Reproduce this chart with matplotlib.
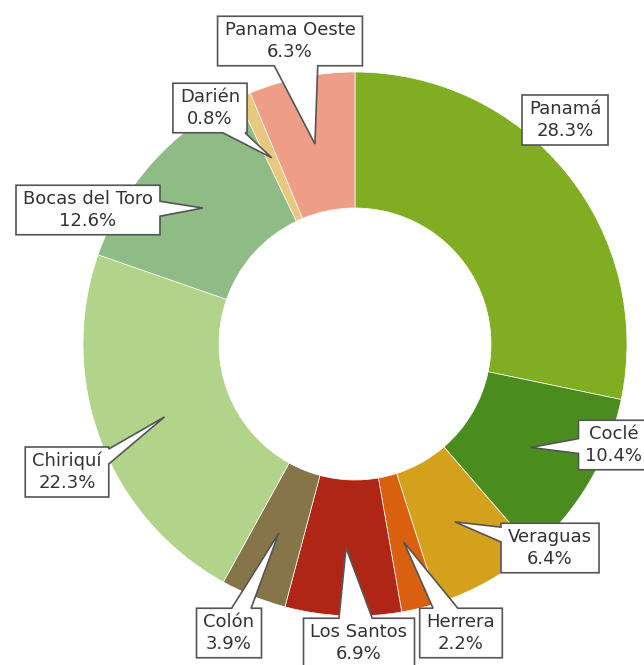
import numpy as np
import matplotlib
matplotlib.use("Agg")
import matplotlib.pyplot as plt
from matplotlib.patches import Polygon

# data (share of total, %), clockwise from the top
regions = ["Panamá", "Coclé", "Veraguas", "Herrera", "Los Santos", "Colón",
           "Chiriquí", "Bocas del Toro", "Darién", "Panama Oeste"]
shares = [28.3, 10.4, 6.4, 2.2, 6.9, 3.9, 22.3, 12.6, 0.8, 6.3]
colors = ["#80ad22", "#4a8c1e", "#d3a11c", "#d9600f", "#b02616", "#857548",
          "#b2d38a", "#8fbb84", "#e8c77f", "#ee9e86"]

# label box centres in pixels (y measured from top)
label_xy = [(565, 120), (614, 445), (550, 548), (461, 633), (359, 643),
            (229, 633), (67, 472), (88, 210), (210, 108), (290, 41)]

W, H = 644, 665
cx, cy = 355, H - 344
R = 272

fig = plt.figure(figsize=(W / 100, H / 100), dpi=100)
ax = fig.add_axes([0, 0, 1, 1])
ax.set_xlim(0, W)
ax.set_ylim(0, H)
ax.set_aspect("equal")
ax.axis("off")

ax.pie(shares, colors=colors, startangle=90, counterclock=False,
       radius=R, center=(cx, cy), frame=True,
       wedgeprops=dict(width=R / 2, edgecolor="white", linewidth=0.5))
ax.set_xlim(0, W)
ax.set_ylim(0, H)
ax.axis("off")

# pointer tips sit in the middle of each ring segment
cum = np.cumsum(shares) - np.array(shares) / 2
ang = np.deg2rad(90 - cum / sum(shares) * 360)
r_tip = R * 0.75

renderer = fig.canvas.get_renderer()
pad_x, pad_y = 7, 5


def callout(x0, y0, x1, y1, tip):
    tx, ty = tip
    mx, my = (x0 + x1) / 2, (y0 + y1) / 2
    dx, dy = tx - mx, ty - my
    corners = [(x0, y0), (x1, y0), (x1, y1), (x0, y1)]
    # which side does the line towards the tip leave through
    sx = (x1 - mx) / abs(dx) if dx else np.inf
    sy = (y1 - my) / abs(dy) if dy else np.inf
    if sx < sy:
        side = "right" if dx > 0 else "left"
        p = my + dy * sx
        hw = 0.15 * (y1 - y0)
        p = min(max(p, y0 + hw + 2), y1 - hw - 2)
    else:
        side = "top" if dy > 0 else "bottom"
        p = mx + dx * sy
        hw = 0.15 * (x1 - x0)
        p = min(max(p, x0 + hw + 2), x1 - hw - 2)
    if side == "bottom":
        ins, at = [(p - hw, y0), tip, (p + hw, y0)], 1
    elif side == "right":
        ins, at = [(x1, p - hw), tip, (x1, p + hw)], 2
    elif side == "top":
        ins, at = [(p + hw, y1), tip, (p - hw, y1)], 3
    else:
        ins, at = [(x0, p + hw), tip, (x0, p - hw)], 4
    return corners[:at] + ins + corners[at:]


for i, (name, val) in enumerate(zip(regions, shares)):
    lx, ly = label_xy[i]
    z = 6 if name == "Herrera" else 5
    t = ax.text(lx, H - ly, f"{name}\n{val}%", ha="center", va="center",
                fontsize=13, color="#333333", linespacing=1.25, zorder=z + 0.5)
    bb = t.get_window_extent(renderer=renderer)
    x0, y0 = bb.x0 - pad_x, bb.y0 - pad_y
    x1, y1 = bb.x1 + pad_x, bb.y1 + pad_y
    if name == "Panamá":
        verts = [(x0, y0), (x1, y0), (x1, y1), (x0, y1)]
    else:
        tip = (cx + r_tip * np.cos(ang[i]), cy + r_tip * np.sin(ang[i]))
        verts = callout(x0, y0, x1, y1, tip)
    ax.add_patch(Polygon(verts, closed=True, fc="white", ec="#555555",
                         lw=1.2, zorder=z, joinstyle="miter"))

fig.savefig("out.png", dpi=100)
